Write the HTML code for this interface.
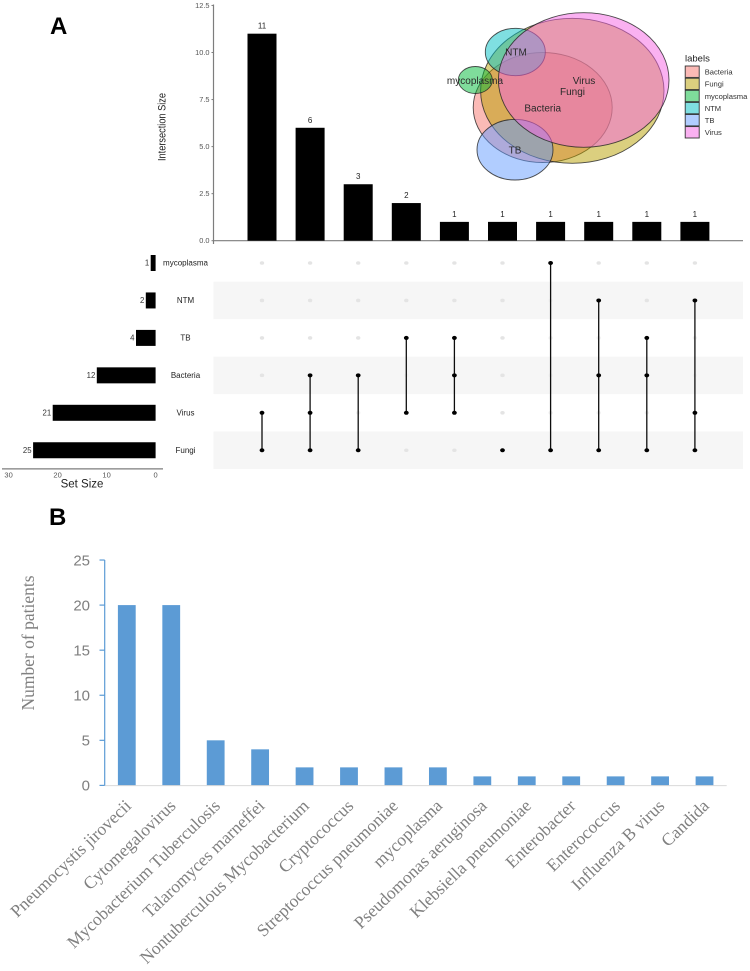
<!DOCTYPE html>
<html lang="en">
<head>
<meta charset="utf-8">
<title>Infection intersections and pathogen counts</title>
<style>
html,body{margin:0;padding:0;background:#fff}
#chart{display:block;width:750px;height:971px;font-family:"Liberation Sans",sans-serif}
</style>
</head>
<body>
<svg id="chart" xmlns="http://www.w3.org/2000/svg" width="750" height="971" viewBox="0 0 750 971">
  <defs><filter id="soft" x="-2%" y="-2%" width="104%" height="104%"><feGaussianBlur stdDeviation="0.3"/></filter></defs>
  <rect x="0" y="0" width="750" height="971" fill="#ffffff"/>
  <text x="50" y="34" font-size="24" font-weight="bold" fill="#000">A</text>
  <text x="49" y="525" font-size="24" font-weight="bold" fill="#000">B</text>
  <g filter="url(#soft)">
  <g id="upset"></g>
  <g id="venn" stroke="#222" stroke-opacity="0.8" stroke-width="0.9">
    <ellipse cx="542.7" cy="107.5" rx="69.5" ry="55" fill="#F8766D" fill-opacity="0.5"/>
    <ellipse cx="572.3" cy="90.8" rx="91.7" ry="72.5" fill="#B79F00" fill-opacity="0.5"/>
    <ellipse cx="475.3" cy="80" rx="17" ry="13.5" fill="#00BA38" fill-opacity="0.5"/>
    <ellipse cx="515.3" cy="52" rx="30" ry="23.7" fill="#00BFC4" fill-opacity="0.5"/>
    <ellipse cx="515" cy="149.7" rx="38" ry="30.3" fill="#619CFF" fill-opacity="0.5"/>
    <ellipse cx="583.7" cy="80" rx="85.3" ry="67.3" fill="#F564E3" fill-opacity="0.5"/>
  </g>
  <g font-size="10" fill="#2a2a2a" text-anchor="middle">
    <text x="584" y="84">Virus</text>
    <text x="572.5" y="95">Fungi</text>
    <text x="542.7" y="111.5">Bacteria</text>
    <text x="516" y="55.5">NTM</text>
    <text x="515" y="153.5">TB</text>
    <text x="475" y="84">mycoplasma</text>
  </g>
  <g>
    <text x="685" y="61.5" font-size="9.5" fill="#222">labels</text>
    <g><rect x="685.2" y="66" width="14" height="11.4" fill="#F8766D" fill-opacity="0.5" stroke="#333" stroke-width="0.9"/><text x="704.7" y="74.5" font-size="7.6" fill="#333">Bacteria</text></g>
    <g><rect x="685.2" y="78.2" width="14" height="11.4" fill="#B79F00" fill-opacity="0.5" stroke="#333" stroke-width="0.9"/><text x="704.7" y="86.7" font-size="7.6" fill="#333">Fungi</text></g>
    <g><rect x="685.2" y="90.3" width="14" height="11.4" fill="#00BA38" fill-opacity="0.5" stroke="#333" stroke-width="0.9"/><text x="704.7" y="98.8" font-size="7.6" fill="#333">mycoplasma</text></g>
    <g><rect x="685.2" y="102.4" width="14" height="11.4" fill="#00BFC4" fill-opacity="0.5" stroke="#333" stroke-width="0.9"/><text x="704.7" y="110.9" font-size="7.6" fill="#333">NTM</text></g>
    <g><rect x="685.2" y="114.5" width="14" height="11.4" fill="#619CFF" fill-opacity="0.5" stroke="#333" stroke-width="0.9"/><text x="704.7" y="123" font-size="7.6" fill="#333">TB</text></g>
    <g><rect x="685.2" y="126.6" width="14" height="11.4" fill="#F564E3" fill-opacity="0.5" stroke="#333" stroke-width="0.9"/><text x="704.7" y="135.1" font-size="7.6" fill="#333">Virus</text></g>
  </g>
  </g>
  <g id="pathogens" filter="url(#soft)"></g>
</svg>
<script>
const intersectionTicks = [0, 2.5, 5, 7.5, 10, 12.5];
const intersectionValues = [11, 6, 3, 2, 1, 1, 1, 1, 1, 1];
const intersectionMembers = [
  ["Virus", "Fungi"],
  ["Bacteria", "Virus", "Fungi"],
  ["Bacteria", "Fungi"],
  ["TB", "Virus"],
  ["TB", "Bacteria", "Virus"],
  ["Fungi"],
  ["mycoplasma", "Fungi"],
  ["NTM", "Bacteria", "Fungi"],
  ["TB", "Bacteria", "Fungi"],
  ["NTM", "Virus", "Fungi"]
];
const setNames = ["mycoplasma", "NTM", "TB", "Bacteria", "Virus", "Fungi"];
const setSizes = [1, 2, 4, 12, 21, 25];
const setSizeTicks = [30, 20, 10, 0];
const pathogenNames = ["Pneumocystis jirovecii", "Cytomegalovirus", "Mycobacterium Tuberculosis", "Talaromyces marneffei", "Nontuberculous Mycobacterium", "Cryptococcus", "Streptococcus pneumoniae", "mycoplasma", "Pseudomonas aeruginosa", "Klebsiella pneumoniae", "Enterobacter", "Enterococcus", "Influenza B virus", "Candida"];
const pathogenCounts = [20, 20, 5, 4, 2, 2, 2, 2, 1, 1, 1, 1, 1, 1];
const patientTicks = [0, 5, 10, 15, 20, 25];

const NS = "http://www.w3.org/2000/svg";
function make(parent, tag, props, text) {
  const el = document.createElementNS(NS, tag);
  for (const k in props) el.setAttribute(k, props[k]);
  if (text !== undefined) el.textContent = text;
  parent.appendChild(el);
  return el;
}
function slug(s) { return String(s).toLowerCase().replace(/[^a-z0-9]+/g, "-"); }

/* ---------- Panel A: UpSet ---------- */
const upset = document.getElementById("upset");
const ySize = v => 240.7 - v * 18.82;
const xCol = i => 262 + i * 48.1;
const yRow = i => 263 + i * 37.45;
const xSet = v => 155.6 - v * 4.9;
const axisGray = "#7d7d7d";

setNames.forEach((name, i) => {
  if (i % 2 === 1) {
    const stripe = make(upset, "rect", { x: 213.5, y: yRow(i) - 18.7, width: 529.5, height: 37.4, fill: "#f6f6f6" });
    
    
  }
});

const yAxisA = make(upset, "line", { x1: 213.5, y1: 4.5, x2: 213.5, y2: 244, stroke: axisGray, "stroke-width": 1.2 });


const xAxisA = make(upset, "line", { x1: 213, y1: 240.7, x2: 743, y2: 240.7, stroke: axisGray, "stroke-width": 1.2 });



intersectionTicks.forEach(t => {
  const mark = make(upset, "line", { x1: 211.5, y1: ySize(t), x2: 213.5, y2: ySize(t), stroke: axisGray, "stroke-width": 1 });
  
  
  const lab = make(upset, "text", { x: 209.5, y: ySize(t) + 2.5, "font-size": 7.4, fill: "#555", "text-anchor": "end" }, t.toFixed(1));
  
  
});

const yTitleA = make(upset, "text", { transform: "translate(165.5,127) rotate(-90)", "font-size": 11, fill: "#222", "text-anchor": "middle", textLength: 68, lengthAdjust: "spacingAndGlyphs" }, "Intersection Size");



intersectionValues.forEach((v, i) => {
  const bar = make(upset, "rect", { x: xCol(i) - 14.5, y: ySize(v), width: 29, height: ySize(0) - ySize(v), fill: "#000" });
  
  
  const lab = make(upset, "text", { x: xCol(i), y: ySize(v) - 5, "font-size": 8, fill: "#222", "text-anchor": "middle" }, v);
  
  

  const rows = intersectionMembers[i].map(n => setNames.indexOf(n));
  const topRow = Math.min(...rows);
  const bottomRow = Math.max(...rows);
  setNames.forEach((n, r) => {
    if (!rows.includes(r)) {
      const crossed = r > topRow && r < bottomRow;
      const dot = make(upset, "ellipse", { cx: xCol(i), cy: yRow(r), rx: 2.2, ry: 1.8, fill: crossed ? "#f1f1f1" : "#e4e4e4" });
      
      
    }
  });
  if (rows.length > 1) {
    const link = make(upset, "line", { x1: xCol(i), y1: yRow(topRow), x2: xCol(i), y2: yRow(bottomRow), stroke: "#111", "stroke-width": 1.3 });
    
    
  }
  rows.forEach(r => {
    const dot = make(upset, "ellipse", { cx: xCol(i), cy: yRow(r), rx: 2.4, ry: 2, fill: "#000" });
    
    
  });
});

setNames.forEach((name, i) => {
  const bar = make(upset, "rect", { x: xSet(setSizes[i]), y: yRow(i) - 8, width: xSet(0) - xSet(setSizes[i]), height: 16, fill: "#000" });
  
  
  const val = make(upset, "text", { x: xSet(setSizes[i]) - 1.5, y: yRow(i) + 2.7, "font-size": 7.8, fill: "#333", "text-anchor": "end" }, setSizes[i]);
  
  
  const lab = make(upset, "text", { x: 185.5, y: yRow(i) + 2.7, "font-size": 8, fill: "#222", "text-anchor": "middle" }, name);
  
  
});

const setAxis = make(upset, "line", { x1: 2, y1: 468.9, x2: 163, y2: 468.9, stroke: axisGray, "stroke-width": 1.2 });


setSizeTicks.forEach(t => {
  const lab = make(upset, "text", { x: xSet(t), y: 477.5, "font-size": 7.5, fill: "#555", "text-anchor": "middle" }, t);
  
  
});
const setTitle = make(upset, "text", { x: 82, y: 487.5, "font-size": 11.5, fill: "#222", "text-anchor": "middle" }, "Set Size");



/* ---------- Panel B: pathogen bars ---------- */
const pathogens = document.getElementById("pathogens");
const yPat = v => 785.4 - v * 9.015;
const xPat = i => 126.8 + i * 44.44;
const blue = "#5b9bd5";

pathogenCounts.forEach((v, i) => {
  const bar = make(pathogens, "rect", { x: xPat(i) - 8.9, y: yPat(v), width: 17.8, height: yPat(0) - yPat(v), fill: blue });
  
  
  const lab = make(pathogens, "text", { transform: "translate(" + (xPat(i) + 5.5) + ",807) rotate(-44)", "font-family": '"Liberation Serif",serif', "font-size": 17.5, fill: "#808080", "text-anchor": "end" }, pathogenNames[i]);
  
  
});

const xAxisB = make(pathogens, "line", { x1: 104.7, y1: 785.6, x2: 726.7, y2: 785.6, stroke: "#d9d9d9", "stroke-width": 1 });


const yAxisB = make(pathogens, "line", { x1: 104.7, y1: yPat(25), x2: 104.7, y2: yPat(0), stroke: blue, "stroke-width": 1.2 });



patientTicks.forEach(t => {
  const mark = make(pathogens, "line", { x1: 99.5, y1: yPat(t), x2: 104.7, y2: yPat(t), stroke: blue, "stroke-width": 1.2 });
  
  
  const lab = make(pathogens, "text", { x: 90, y: yPat(t) + 5.3, "font-size": 15, fill: "#7f7f7f", "text-anchor": "end" }, t);
  
  
});

const yTitleB = make(pathogens, "text", { transform: "translate(34,643) rotate(-90)", "font-family": '"Liberation Serif",serif', "font-size": 17.5, fill: "#808080", "text-anchor": "middle" }, "Number of patients");


</script>
</body>
</html>
